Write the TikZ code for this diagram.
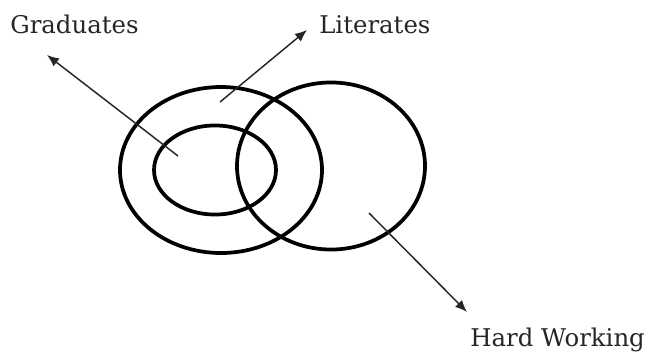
\documentclass[tikz,border=0pt]{standalone}
\usepackage{fontspec}
\setmainfont{DejaVu Serif}
\usetikzlibrary{arrows.meta,shapes.geometric}

\begin{document}
\begin{tikzpicture}[x=0.75pt, y=-0.75pt, every node/.style={font=\fontsize{18.3}{22}\selectfont, text=black!85}, >={Latex[length=9pt, width=7.5pt]},
	set/.style={draw, ellipse, line width=2.8pt, inner sep=0pt},
	pointer/.style={->, line width=1.1pt, black!85}]
	\useasboundingbox (0,0) rectangle (657,351);
	\node[set, minimum width=151.5pt, minimum height=124.5pt] (lit) at (221,170) {};
	\node[set, minimum width=91.5pt, minimum height=66.8pt] (grad) at (215,170) {};
	\node[set, minimum width=141pt, minimum height=125.3pt] (hard) at (331,166) {};
	\coordinate (gradin) at (178,156);
	\coordinate (gradtip) at (47,55);
	\coordinate (litin) at (220,102);
	\coordinate (littip) at (307,30);
	\coordinate (hardin) at (369,213);
	\coordinate (hardtip) at (467,312);
	\draw[pointer] (gradin) -- (gradtip);
	\draw[pointer] (litin) -- (littip);
	\draw[pointer] (hardin) -- (hardtip);
	\node[anchor=base west, inner sep=0pt] (gradlbl) at (10,33) {Graduates};
	\node[anchor=base west, inner sep=0pt] (litlbl) at (319,33) {Literates};
	\node[anchor=base west, inner sep=0pt] (hardlbl) at (470,346) {Hard Working};
\end{tikzpicture}
\end{document}
